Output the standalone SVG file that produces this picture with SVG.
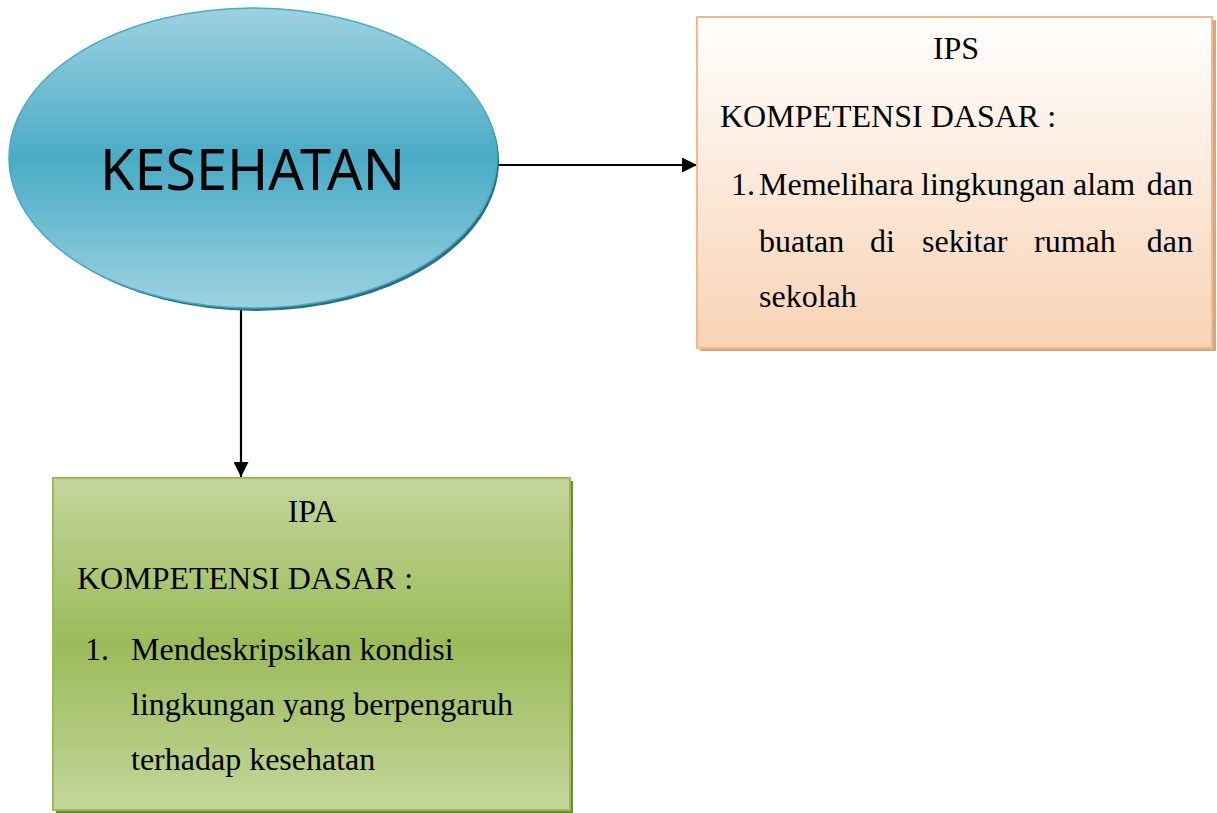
<svg xmlns="http://www.w3.org/2000/svg" width="1217" height="813" viewBox="0 0 1217 813">
<defs>
<linearGradient id="gBlue" x1="0" y1="0" x2="0" y2="1">
<stop offset="0" stop-color="#9dd2e0"/>
<stop offset="0.5" stop-color="#4aabc6"/>
<stop offset="1" stop-color="#9dd2e0"/>
</linearGradient>
<linearGradient id="gPeach" x1="0" y1="0" x2="0" y2="1">
<stop offset="0" stop-color="#ffffff"/>
<stop offset="1" stop-color="#f9d3b4"/>
</linearGradient>
<linearGradient id="gGreen" x1="0" y1="0" x2="0" y2="1">
<stop offset="0" stop-color="#c3d69b"/>
<stop offset="0.5" stop-color="#9bbb59"/>
<stop offset="1" stop-color="#c3d69b"/>
</linearGradient>
<marker id="arr" viewBox="0 0 10 10" refX="10" refY="5" markerWidth="15" markerHeight="15" markerUnits="userSpaceOnUse" orient="auto">
<path d="M0,0 L10,5 L0,10 z" fill="#000"/>
</marker>
</defs>
<style>
.t{font-family:"Liberation Serif","Times New Roman",serif;font-size:32px;fill:#000}
.edge{stroke:#000;stroke-width:2.2;fill:none}
</style>
<rect width="1217" height="813" fill="#fff"/>
<g id="connectors">
<line class="edge" x1="498" y1="165" x2="697" y2="165" marker-end="url(#arr)"/>
<line class="edge" x1="241" y1="310" x2="241" y2="477" marker-end="url(#arr)"/>
</g>
<g id="kesehatan">
<ellipse cx="256" cy="161" rx="243" ry="150" fill="#2a6f82"/>
<ellipse cx="253" cy="158" rx="244" ry="150" fill="url(#gBlue)" stroke="#4aabc6" stroke-width="1.5"/>
<text x="100" y="190" font-family="'Noto Sans','Open Sans',sans-serif" font-size="57" textLength="305" lengthAdjust="spacingAndGlyphs" fill="#000">KESEHATAN</text>
</g>
<g id="ips">
<rect x="700" y="20" width="516" height="331" fill="#d6a67e"/>
<rect x="697" y="17" width="515" height="331" fill="url(#gPeach)" stroke="#f5b888" stroke-width="2"/>
<text class="t" x="956" y="59" text-anchor="middle">IPS</text>
<text class="t" x="720" y="127">KOMPETENSI DASAR :</text>
<text class="t" x="731" y="195">1.</text>
<text class="t" x="759" y="195">Memelihara</text>
<text class="t" x="921" y="195">lingkungan</text>
<text class="t" x="1073" y="195">alam</text>
<text class="t" x="1193" y="195" text-anchor="end">dan</text>
<text class="t" x="759" y="252">buatan</text>
<text class="t" x="870" y="252">di</text>
<text class="t" x="922" y="252">sekitar</text>
<text class="t" x="1034" y="252">rumah</text>
<text class="t" x="1193" y="252" text-anchor="end">dan</text>
<text class="t" x="759" y="307">sekolah</text>
</g>
<g id="ipa">
<rect x="56" y="481" width="517" height="332" fill="#6f8a3a"/>
<rect x="53" y="478" width="517" height="332" fill="url(#gGreen)" stroke="#9bbb59" stroke-width="2"/>
<text class="t" x="312" y="522" text-anchor="middle">IPA</text>
<text class="t" x="77" y="589">KOMPETENSI DASAR :</text>
<text class="t" x="85" y="660">1.</text>
<text class="t" x="131" y="660">Mendeskripsikan kondisi</text>
<text class="t" x="131" y="715">lingkungan yang berpengaruh</text>
<text class="t" x="131" y="770">terhadap kesehatan</text>
</g>
</svg>
